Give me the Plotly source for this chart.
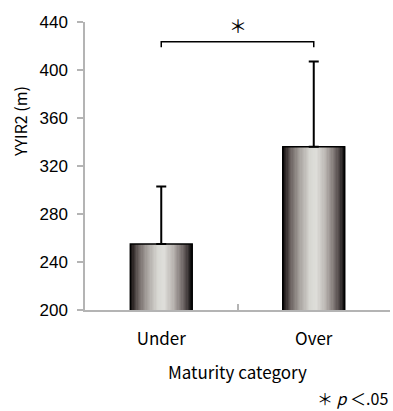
import plotly.graph_objects as go

# ---- data ----
categories = ["Under", "Over"]
means = [255, 336]
sds = [48, 71]
y_ticks = [200, 240, 280, 320, 360, 400, 440]
bracket_top = 423.6
bracket_foot = 419.0
star_y = 437.5
x_title = "Maturity category"
y_title = "YYIR2 (m)"
note = "＊ <i>p</i> ＜.05"

# ---- gradient for cylinder-like bars ----
stops = [
    (0.00, (12, 10, 10)),
    (0.05, (45, 38, 38)),
    (0.13, (105, 96, 94)),
    (0.27, (165, 160, 156)),
    (0.45, (216, 216, 211)),
    (0.55, (222, 222, 218)),
    (0.70, (186, 181, 177)),
    (0.82, (132, 124, 122)),
    (0.92, (78, 70, 70)),
    (1.00, (10, 10, 10)),
]
def grad(t):
    for (p0, c0), (p1, c1) in zip(stops[:-1], stops[1:]):
        if p0 <= t <= p1:
            f = (t - p0) / (p1 - p0) if p1 > p0 else 0
            c = [round(a + (b - a) * f) for a, b in zip(c0, c1)]
            return f"rgb({c[0]},{c[1]},{c[2]})"
    return "rgb(10,10,10)"

BW = 0.405
N = 48
step = BW / N

fig = go.Figure()
for i in range(N):
    t = (i + 0.5) / N
    fig.add_trace(go.Bar(
        x=categories, y=means,
        width=step * 1.35, offset=-BW / 2 + i * step,
        marker=dict(color=grad(t), line=dict(width=0)),
        showlegend=False, hoverinfo="skip",
    ))

# outline + error bars
fig.add_trace(go.Bar(
    x=categories, y=means, width=BW,
    marker=dict(color="rgba(0,0,0,0)", line=dict(color="black", width=1.6)),
    error_y=dict(type="data", symmetric=False, array=sds, arrayminus=[0, 0],
                 color="black", thickness=2, width=5),
    showlegend=False,
))

# significance bracket
fig.add_shape(type="path",
              path=f"M 0,{bracket_foot} L 0,{bracket_top} L 1,{bracket_top} L 1,{bracket_foot}",
              xref="x", yref="y", line=dict(color="black", width=1.5))
fig.add_annotation(x=0.5, y=star_y, xref="x", yref="y", text="＊", showarrow=False,
                   font=dict(family="Noto Sans CJK JP", size=18, color="black"))

fig.add_annotation(x=0.5, y=-0.215, xref="paper", yref="paper", text=x_title,
                   showarrow=False, xanchor="center", yanchor="middle",
                   font=dict(family="Noto Sans CJK JP", size=17, color="black"))
fig.add_annotation(x=-0.213, y=0.653, xref="paper", yref="paper", text=y_title,
                   showarrow=False, textangle=-90, xanchor="center", yanchor="middle",
                   font=dict(family="Noto Sans CJK JP", size=16, color="black"))
fig.add_annotation(x=1.0, y=-0.306, xref="paper", yref="paper", text=note,
                   showarrow=False, xanchor="right", yanchor="middle",
                   font=dict(family="Noto Sans CJK JP", size=16, color="black"))

fig.update_layout(
    width=393, height=411,
    margin=dict(l=85, r=3, t=22, b=101),
    plot_bgcolor="white", paper_bgcolor="white",
    barmode="overlay",
    xaxis=dict(type="category", range=[-0.5, 1.5], showgrid=False,
               showline=True, linecolor="#b4b4b4", linewidth=1.5,
               ticks="inside", tickson="boundaries", ticklen=6, tickcolor="#b4b4b4",
               tickwidth=1.5, ticklabelstandoff=13,
               tickfont=dict(family="Noto Sans CJK JP", size=17, color="black")),
    yaxis=dict(range=[200, 440], tickvals=y_ticks, showgrid=False, zeroline=False,
               showline=True, linecolor="#b4b4b4", linewidth=1.5,
               ticks="outside", ticklen=6, tickcolor="#b4b4b4", tickwidth=1.5,
               ticklabelstandoff=6,
               tickfont=dict(family="Liberation Sans", size=17, color="black")),
)

fig.write_html("out.html", config={"displayModeBar": False},
               post_script="document.body.style.margin='0';document.body.style.overflow='hidden';")
